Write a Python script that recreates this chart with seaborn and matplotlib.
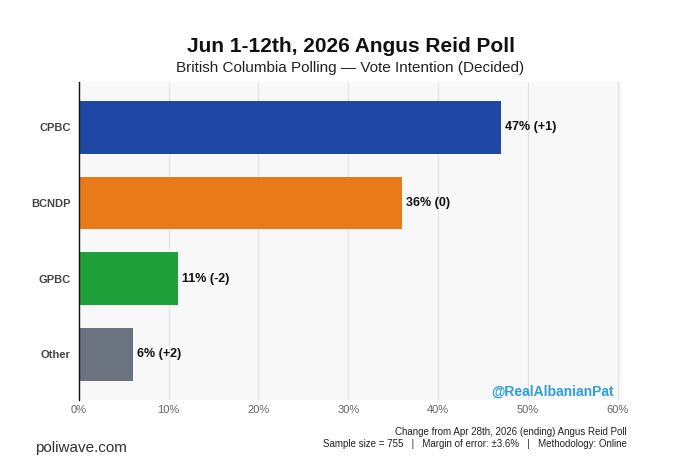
import matplotlib
matplotlib.use("Agg")
import matplotlib.pyplot as plt
import seaborn as sns
import pandas as pd

parties = ["CPBC", "BCNDP", "GPBC", "Other"]
values = [47, 36, 11, 6]
changes = ["+1", "0", "-2", "+2"]
colors = ["#1f48a4", "#e87a1a", "#20a03a", "#6b7280"]
xticks = [0, 10, 20, 30, 40, 50, 60]

sns.set_style("white")
plt.rcParams["font.family"] = ["Liberation Sans", "DejaVu Sans"]

df = pd.DataFrame({"party": parties, "value": values})

fig = plt.figure(figsize=(6.8, 4.76), dpi=100)
ax = fig.add_axes([0.116, 0.16, 0.799, 0.668])
ax.set_facecolor("#f8f8f8")

sns.barplot(data=df, x="value", y="party", hue="party", palette=colors,
            order=parties, hue_order=parties, width=0.7, legend=False,
            saturation=1, linewidth=0, edgecolor="none", ax=ax, zorder=3)

ax.set_xlim(0, 60.5)
ax.set_ylim(3.6, -0.6)
ax.set_xticks(xticks)
ax.set_xticklabels([f"{t}%" for t in xticks])
ax.grid(axis="x", color="#e3e3e3", linewidth=0.8, zorder=0)
ax.set_axisbelow(True)
for s in ["top", "right", "bottom"]:
    ax.spines[s].set_visible(False)
ax.spines["left"].set_color("#111111")
ax.spines["left"].set_linewidth(1.0)
ax.spines["left"].set_zorder(5)
ax.tick_params(axis="x", length=0, labelsize=8, labelcolor="#666666", pad=4)
ax.tick_params(axis="y", length=0, labelsize=8, labelcolor="#444444", pad=6)
for lab in ax.get_yticklabels():
    lab.set_fontweight("bold")
ax.set_xlabel("")
ax.set_ylabel("")

for i, (v, c) in enumerate(zip(values, changes)):
    ax.annotate(f"{v}% ({c})", xy=(v, i), xytext=(3, 0), textcoords="offset points",
                va="center", ha="left", fontsize=9, fontweight="bold", color="#111111")

ax.text(0.985, 0.003, "@RealAlbanianPat", transform=ax.transAxes, ha="right", va="bottom",
        fontsize=10, fontweight="bold", color="#2e9fdb")

cx = (0.116 + 0.915) / 2
fig.text(cx, 1 - 46 / 476, "Jun 1-12th, 2026 Angus Reid Poll", ha="center", va="center",
         fontsize=15, fontweight="bold", color="#111111")
fig.text(cx, 1 - 68 / 476, "British Columbia Polling \u2014 Vote Intention (Decided)",
         ha="center", va="center", fontsize=11, color="#222222")

fig.text(35 / 680, 1 - 448 / 476, "poliwave.com", ha="left", va="center",
         fontsize=11, color="#333333")
fig.text(627 / 680, 1 - 432 / 476, "Change from Apr 28th, 2026 (ending) Angus Reid Poll",
         ha="right", va="center", fontsize=7, color="#222222")
fig.text(627 / 680, 1 - 444 / 476,
         "Sample size = 755   |   Margin of error: \u00b13.6%   |   Methodology: Online",
         ha="right", va="center", fontsize=7, color="#222222")

fig.savefig("out.png", dpi=100, facecolor="white")
